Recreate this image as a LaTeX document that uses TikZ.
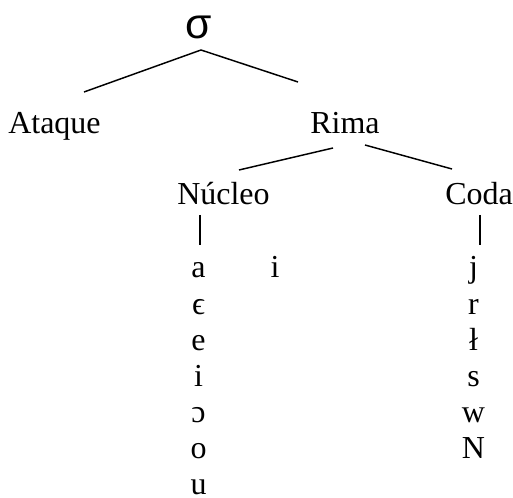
\documentclass[tikz,border=0pt]{standalone}
\usepackage{fontspec}
\setmainfont{Liberation Serif}
\newfontfamily\sigmafont{Liberation Sans}
\usepackage{tikz}

\tikzset{
  label text/.style={anchor=base west, inner sep=0pt, font=\fontsize{24}{28}\selectfont},
  seg text/.style={anchor=base, inner sep=0pt, font=\fontsize{24}{28}\selectfont},
  branch/.style={line width=1.1pt},
  stem/.style={line width=1.8pt}
}

\begin{document}
\begin{tikzpicture}[x=0.75pt,y=0.75pt,yscale=-1,xscale=1]
    \useasboundingbox (0,0) rectangle (513,498);

    % Text Node
    \node (sigma) at (198.5,39) [anchor=base, inner sep=0pt, font=\sigmafont\fontsize{32}{36}\selectfont] {σ};
    % Text Node
    \node (ataque) at (8,134) [label text] {Ataque};
    % Text Node
    \node (rima) at (310,134) [label text] {Rima};
    % Text Node
    \node (nucleo) at (177,205) [label text] {Núcleo};
    % Text Node
    \node (coda) at (445,205) [label text] {Coda};

    %Branch ends
    \coordinate (sigma-top) at (201,50);
    \coordinate (ataque-top) at (84,92);
    \coordinate (rima-top) at (298,82);
    \coordinate (rima-left) at (333,148);
    \coordinate (nucleo-top) at (239,170);
    \coordinate (rima-right) at (365,145);
    \coordinate (coda-top) at (452,169);
    \coordinate (nucleo-stem) at (200,215);
    \coordinate (nucleo-foot) at (200,245);
    \coordinate (coda-stem) at (480,215);
    \coordinate (coda-foot) at (480,245);

    %Straight Lines
    \draw [branch] (sigma-top) -- (ataque-top);
    \draw [branch] (sigma-top) -- (rima-top);
    \draw [branch] (rima-left) -- (nucleo-top);
    \draw [branch] (rima-right) -- (coda-top);
    \draw [stem] (nucleo-stem) -- (nucleo-foot);
    \draw [stem] (coda-stem) -- (coda-foot);

    % Nucleus segments
    \node (nuc-glide) at (275,278) [seg text] {i};
    \foreach \seg [count=\i from 0] in {a,ϵ,e,i,ɔ,o,u}
        \node (nuc-\i) at (198.5,278+36.1*\i) [seg text] {\seg};
    % Coda segments
    \foreach \seg [count=\i from 0] in {j,r,ł,s,w,N}
        \node (coda-\i) at (473.5,278+36.1*\i) [seg text] {\seg};

\end{tikzpicture}
\end{document}
